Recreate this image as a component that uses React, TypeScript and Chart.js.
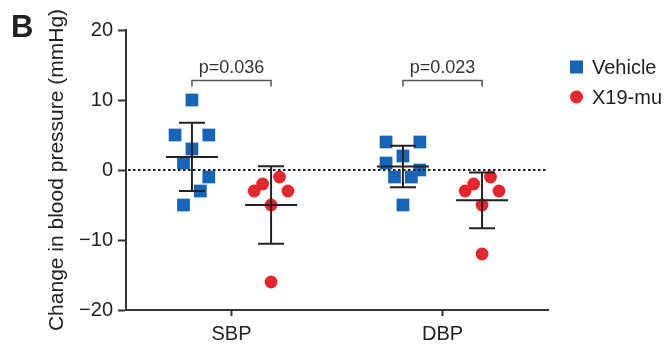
import { useEffect, useRef } from "react";
import { Chart, registerables } from "chart.js";

Chart.register(...registerables);

const categories = ["SBP", "DBP"];
const groups = ["Vehicle", "X19-mu"];
const vehicleSBP = [10, 5, 5, 3, 1, -1, -3, -5];
const vehicleSBPSlot = [0, -2, 2, 0, -1, 2, 1, -1];
const x19SBP = [-1, -2, -3, -3, -5, -16];
const x19SBPSlot = [1, -1, -2, 2, 0, 0];
const vehicleDBP = [4, 4, 2, 1, 0, -1, -1, -5];
const vehicleDBPSlot = [-2, 2, 0, -2, 2, -1, 1, 0];
const x19DBP = [-1, -2, -3, -3, -5, -12];
const x19DBPSlot = [1, -1, -2, 2, 0, 0];
const pLabels = ["p=0.036", "p=0.023"];
const bracketLevel = 12.8;
const yTicks = [-20, -10, 0, 10, 20];

const FONT = "'Liberation Sans', Arial, Helvetica, sans-serif";
const BLUE = "rgb(22,100,184)";
const RED = "rgb(230,38,44)";
const INK = "#222";

const GROUP_OFFSET = 0.375;
const SLOT = 0.08;
const catPos = (i: number) => 1 + 2 * i;

const vehicleValues = [vehicleSBP, vehicleDBP];
const vehicleSlots = [vehicleSBPSlot, vehicleDBPSlot];
const x19Values = [x19SBP, x19DBP];
const x19Slots = [x19SBPSlot, x19DBPSlot];

function pts(values: number[][], slots: number[][], off: number) {
  const out: { x: number; y: number }[] = [];
  values.forEach((vals, ci) => {
    vals.forEach((v, k) => {
      out.push({ x: catPos(ci) + off + slots[ci][k] * SLOT, y: v });
    });
  });
  return out;
}

function meanSd(a: number[]) {
  const m = a.reduce((s, v) => s + v, 0) / a.length;
  const sd = Math.sqrt(a.reduce((s, v) => s + (v - m) * (v - m), 0) / (a.length - 1));
  return { m, sd };
}

const overlay = {
  id: "overlay",
  afterDatasetsDraw(chart: any) {
    const { ctx, chartArea, scales } = chart;
    const xs = scales.x;
    const ys = scales.y;
    ctx.save();
    // zero dotted line
    ctx.strokeStyle = INK;
    ctx.lineWidth = 2;
    ctx.setLineDash([2.5, 2.5]);
    ctx.beginPath();
    const y0 = Math.round(ys.getPixelForValue(0));
    ctx.moveTo(chartArea.left + 2, y0);
    ctx.lineTo(chartArea.right, y0);
    ctx.stroke();
    ctx.setLineDash([]);

    // error bars (mean ± SD)
    const allGroups = [vehicleValues, x19Values];
    const offs = [-GROUP_OFFSET, GROUP_OFFSET];
    ctx.strokeStyle = INK;
    ctx.lineWidth = 2;
    allGroups.forEach((g, gi) => {
      g.forEach((vals, ci) => {
        const { m, sd } = meanSd(vals);
        const cx = xs.getPixelForValue(catPos(ci) + offs[gi]);
        const ym = ys.getPixelForValue(m);
        const yt = ys.getPixelForValue(m + sd);
        const yb = ys.getPixelForValue(m - sd);
        ctx.beginPath();
        ctx.moveTo(cx - 26, ym);
        ctx.lineTo(cx + 26, ym);
        ctx.moveTo(cx, yt);
        ctx.lineTo(cx, yb);
        ctx.moveTo(cx - 13, yt);
        ctx.lineTo(cx + 13, yt);
        ctx.moveTo(cx - 13, yb);
        ctx.lineTo(cx + 13, yb);
        ctx.stroke();
      });
    });

    // significance brackets
    ctx.strokeStyle = "#555";
    ctx.lineWidth = 1.5;
    ctx.fillStyle = "#333";
    ctx.font = `18px ${FONT}`;
    ctx.textAlign = "center";
    ctx.textBaseline = "alphabetic";
    categories.forEach((_, ci) => {
      const xl = xs.getPixelForValue(catPos(ci) - GROUP_OFFSET);
      const xr = xs.getPixelForValue(catPos(ci) + GROUP_OFFSET);
      const yb = ys.getPixelForValue(bracketLevel);
      ctx.beginPath();
      ctx.moveTo(xl, yb + 6);
      ctx.lineTo(xl, yb);
      ctx.lineTo(xr, yb);
      ctx.lineTo(xr, yb + 6);
      ctx.stroke();
      ctx.fillText(pLabels[ci], (xl + xr) / 2, yb - 7);
    });
    ctx.restore();
  },
  afterDraw(chart: any) {
    const { ctx } = chart;
    ctx.save();
    // panel letter
    ctx.fillStyle = INK;
    ctx.font = `bold 31px ${FONT}`;
    ctx.textAlign = "left";
    ctx.textBaseline = "alphabetic";
    ctx.fillText("B", 11, 37);
    // legend
    ctx.font = `20px ${FONT}`;
    ctx.textBaseline = "middle";
    const lx = 576.5;
    const rows = [67, 97];
    ctx.fillStyle = BLUE;
    ctx.fillRect(lx - 6.5, rows[0] - 6.5, 13, 13);
    ctx.fillStyle = RED;
    ctx.beginPath();
    ctx.arc(lx, rows[1], 6.5, 0, Math.PI * 2);
    ctx.fill();
    ctx.fillStyle = INK;
    groups.forEach((g, i) => ctx.fillText(g, 592, rows[i] + 1));
    ctx.restore();
  },
};

export default function App() {
  const ref = useRef<HTMLCanvasElement>(null);
  useEffect(() => {
    if (!ref.current) return;
    const chart = new Chart(ref.current, {
      type: "scatter",
      data: {
        datasets: [
          {
            label: groups[0],
            data: pts(vehicleValues, vehicleSlots, -GROUP_OFFSET),
            pointStyle: "rect",
            pointRadius: 9,
            pointBackgroundColor: BLUE,
            pointBorderWidth: 0,
            pointHoverRadius: 9,
          },
          {
            label: groups[1],
            data: pts(x19Values, x19Slots, GROUP_OFFSET),
            pointStyle: "circle",
            pointRadius: 6.4,
            pointBackgroundColor: RED,
            pointBorderWidth: 0,
            pointHoverRadius: 6.4,
          },
        ],
      },
      options: {
        animation: false,
        responsive: false,
        events: [],
        layout: { padding: { top: 30, right: 121, left: 0, bottom: 0 } },
        plugins: { legend: { display: false }, tooltip: { enabled: false } },
        scales: {
          x: {
            type: "linear",
            min: 0,
            max: 4,
            afterBuildTicks: (s: any) => {
              s.ticks = categories.map((_, i) => ({ value: catPos(i) }));
            },
            afterFit: (s: any) => {
              s.height = 39;
            },
            ticks: {
              callback: (v: any) => categories[(Number(v) - 1) / 2],
              font: { family: FONT, size: 20 },
              color: INK,
              padding: 6,
              autoSkip: false,
              maxRotation: 0,
            },
            grid: { drawOnChartArea: false, drawTicks: true, tickLength: 6, tickColor: "#333", tickWidth: 2 },
            border: { color: "#333", width: 2 },
          },
          y: {
            min: -20,
            max: 20,
            afterBuildTicks: (s: any) => {
              s.ticks = yTicks.map((v) => ({ value: v }));
            },
            afterFit: (s: any) => {
              s.width = 126;
            },
            ticks: {
              callback: (v: any) => (Number(v) < 0 ? "\u2212" + Math.abs(Number(v)) : String(v)),
              font: { family: FONT, size: 20 },
              color: INK,
              padding: 5,
            },
            grid: { drawOnChartArea: false, drawTicks: true, tickLength: 8, tickColor: "#333", tickWidth: 2 },
            border: { color: "#333", width: 2 },
            title: {
              display: true,
              text: "Change in blood pressure (mmHg)",
              font: { family: FONT, size: 21 },
              color: INK,
              padding: { top: 45, bottom: 0 },
            },
          },
        },
      },
      plugins: [overlay],
    });
    return () => chart.destroy();
  }, []);
  return (
    <div style={{ position: "absolute", left: 0, top: 0, width: 669, height: 349, background: "#fff" }}>
      <canvas ref={ref} width={669} height={349} style={{ display: "block" }} />
    </div>
  );
}
